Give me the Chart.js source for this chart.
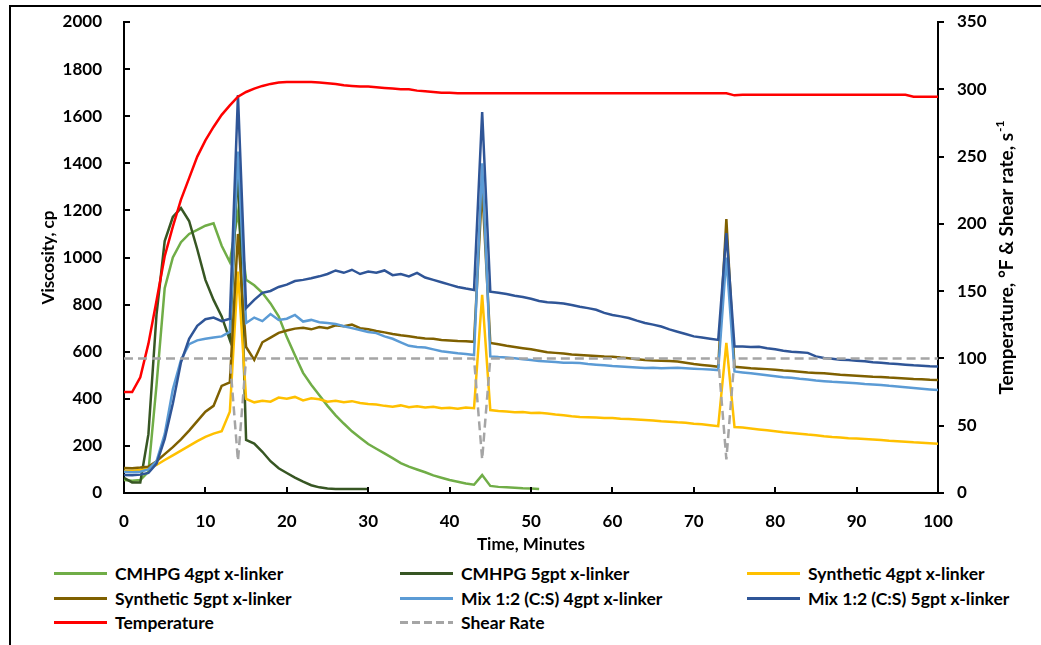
<!DOCTYPE html>
<html>
<head>
<meta charset="utf-8">
<title>Viscosity vs time</title>
<script src="https://cdn.jsdelivr.net/npm/chart.js@4"></script>
<style>
  body { margin: 0; background: #fff; width: 1041px; height: 645px; overflow: hidden; position: relative; font-family: Lato, "Open Sans", sans-serif; }
  #frame { position: absolute; left: 9px; top: 5px; width: 1100px; height: 700px; border-left: 2px solid #000; border-top: 2px solid #000; }
  #wrap { position: absolute; left: 0; top: 0; width: 1041px; height: 560px; }
  #legend .item { position: absolute; display: flex; align-items: center; height: 20px; font: bold 17.5px Lato, sans-serif; color: #000; white-space: nowrap; }
  #legend .swatch { display: inline-block; width: 53px; height: 3px; margin-right: 8px; }
</style>
</head>
<body>
<div id="frame"></div>
<div id="wrap"><canvas id="chart" width="1041" height="560"></canvas></div>
<div id="legend"></div>
<script>
// time grid, minutes
const minutes = [
  0, 1, 2, 3, 4, 5, 6, 7, 8, 9,
  10, 11, 12, 13, 14, 15, 16, 17, 18, 19,
  20, 21, 22, 23, 24, 25, 26, 27, 28, 29,
  30, 31, 32, 33, 34, 35, 36, 37, 38, 39,
  40, 41, 42, 43, 44, 45, 46, 47, 48, 49,
  50, 51, 52, 53, 54, 55, 56, 57, 58, 59,
  60, 61, 62, 63, 64, 65, 66, 67, 68, 69,
  70, 71, 72, 73, 74, 75, 76, 77, 78, 79,
  80, 81, 82, 83, 84, 85, 86, 87, 88, 89,
  90, 91, 92, 93, 94, 95, 96, 97, 98, 99,
  100
];

// viscosity, cp
const cmhpg4 = [
  55, 52, 55, 90, 460, 870, 1000, 1065, 1100, 1117,
  1135, 1145, 1050, 981, 1190, 905, 882, 850, 805, 750,
  662, 585, 510, 460, 415, 370, 330, 295, 262, 235,
  208, 188, 168, 148, 127, 112, 100, 88, 75, 65,
  55, 48, 40, 35, 76, 30, 26, 24, 22, 20,
  19, 17
];
const cmhpg5 = [
  64, 45, 45, 250, 760, 1070, 1172, 1210, 1155, 1035,
  905, 820, 750, 650, 1400, 225, 210, 175, 135, 105,
  85, 65, 48, 33, 24, 19, 17, 17, 17, 17,
  17
];
const synth4 = [
  95, 95, 98, 105, 119, 140, 160, 180, 200, 220,
  238, 252, 262, 345, 940, 400, 385, 392, 388, 405,
  400, 408, 393, 402, 398, 388, 392, 385, 390, 382,
  378, 376, 370, 366, 372, 364, 368, 363, 366, 360,
  362, 358, 363, 360, 841, 352, 348, 346, 343, 344,
  340, 341, 338, 333, 330, 326, 323, 322, 321, 318,
  318, 315, 314, 312, 310, 308, 305, 303, 300, 298,
  294, 292, 288, 284, 637, 280, 278, 274, 270, 266,
  262, 258, 255, 252, 248, 245, 241, 238, 236, 233,
  231, 229, 227, 225, 222, 220, 218, 215, 213, 211,
  209
];
const synth5 = [
  106, 105, 108, 112, 135, 165, 195, 228, 265, 305,
  345, 370, 455, 470, 1100, 620, 565, 640, 660, 680,
  690, 698, 702, 695, 705, 700, 712, 708, 715, 700,
  695, 688, 682, 675, 670, 666, 660, 656, 655, 650,
  648, 645, 644, 642, 1300, 637, 632, 625, 620, 615,
  610, 604, 598, 595, 592, 588, 586, 584, 582, 580,
  579, 575, 572, 568, 565, 563, 562, 560, 558, 553,
  548, 544, 540, 536, 1163, 536, 533, 530, 528, 526,
  523, 520, 518, 515, 512, 510, 508, 505, 502, 500,
  498, 496, 494, 493, 490, 488, 486, 484, 483, 481,
  480
];
const mix4 = [
  90, 88, 90, 100, 135, 250, 440, 565, 632, 648,
  655, 660, 665, 684, 1450, 722, 745, 730, 760, 735,
  740, 756, 728, 735, 725, 722, 718, 708, 700, 692,
  684, 679, 665, 655, 640, 625, 620, 618, 610, 602,
  598, 593, 590, 586, 1400, 580, 577, 575, 572, 568,
  565, 560, 558, 556, 553, 553, 552, 548, 545, 542,
  539, 537, 535, 533, 531, 532, 530, 531, 532, 530,
  528, 526, 524, 522, 1000, 516, 512, 508, 504, 500,
  496, 492, 489, 485, 482, 478, 475, 472, 470, 468,
  466, 463, 461, 459, 455, 452, 449, 446, 443, 440,
  437
];
const mix5 = [
  76, 75, 78, 85, 125, 230, 380, 555, 655, 710,
  738, 745, 730, 740, 1690, 785, 820, 850, 858, 875,
  885, 900, 905, 912, 920, 930, 945, 935, 948, 930,
  940, 935, 945, 925, 930, 920, 935, 915, 905, 895,
  885, 875, 868, 862, 1618, 855, 850, 845, 838, 832,
  825, 815, 810, 808, 805, 798, 791, 785, 778, 765,
  756, 750, 743, 732, 722, 715, 707, 695, 685, 675,
  665, 660, 655, 650, 1104, 622, 622, 620, 621, 615,
  610, 604, 600, 598, 595, 580, 573, 570, 566, 565,
  562, 559, 555, 553, 550, 548, 545, 542, 540, 538,
  537
];

// secondary axis: temperature (°F) and shear rate (1/s)
const temperature = [
  75, 75, 86, 111, 143, 176, 198, 218, 234, 250,
  262, 272, 281, 288, 294.5, 298, 300.5, 302.5, 304, 305,
  305.5, 305.5, 305.5, 305.5, 305, 304.5, 304, 303, 302.5, 302,
  302, 301.5, 301, 300.5, 300, 300, 299, 298.5, 298, 297.5,
  297.5, 297, 297, 297, 297, 297, 297, 297, 297, 297,
  297, 297, 297, 297, 297, 297, 297, 297, 297, 297,
  297, 297, 297, 297, 297, 297, 297, 297, 297, 297,
  297, 297, 297, 297, 297, 295.5, 296, 296, 296, 296,
  296, 296, 296, 296, 296, 296, 296, 296, 296, 296,
  296, 296, 296, 296, 296, 296, 296, 294.5, 294.5, 294.5,
  294.5
];
const shearRate = [
  100, 100, 100, 100, 100, 100, 100, 100, 100, 100,
  100, 100, 100, 100, 24, 100, 100, 100, 100, 100,
  100, 100, 100, 100, 100, 100, 100, 100, 100, 100,
  100, 100, 100, 100, 100, 100, 100, 100, 100, 100,
  100, 100, 100, 100, 25, 100, 100, 100, 100, 100,
  100, 100, 100, 100, 100, 100, 100, 100, 100, 100,
  100, 100, 100, 100, 100, 100, 100, 100, 100, 100,
  100, 100, 100, 100, 25, 100, 100, 100, 100, 100,
  100, 100, 100, 100, 100, 100, 100, 100, 100, 100,
  100, 100, 100, 100, 100, 100, 100, 100, 100, 100,
  100
];

const xTicks = { min: 0, max: 100, step: 10 };
const viscTicks = { min: 0, max: 2000, step: 200 };
const tempTicks = { min: 0, max: 350, step: 50 };

const seriesList = [
  { label: 'CMHPG 4gpt x-linker', values: cmhpg4, color: '#70AD47', axis: 'y' },
  { label: 'CMHPG 5gpt x-linker', values: cmhpg5, color: '#375623', axis: 'y' },
  { label: 'Synthetic 4gpt x-linker', values: synth4, color: '#FFC000', axis: 'y' },
  { label: 'Synthetic 5gpt x-linker', values: synth5, color: '#7F6000', axis: 'y' },
  { label: 'Mix 1:2 (C:S) 4gpt x-linker', values: mix4, color: '#5B9BD5', axis: 'y' },
  { label: 'Mix 1:2 (C:S) 5gpt x-linker', values: mix5, color: '#2F5597', axis: 'y' },
  { label: 'Temperature', values: temperature, color: '#FF0000', axis: 'y2' },
  { label: 'Shear Rate', values: shearRate, color: '#A5A5A5', axis: 'y2', dash: [9, 5] },
];

Chart.defaults.font.family = 'Lato, "Open Sans", sans-serif';
const boldFont = { size: 17, weight: 'bold' };
const plainNumber = v => String(v);

// small inside / outside tick marks like the original
const tickMarks = {
  id: 'tickMarks',
  afterDraw(chart) {
    const { ctx, chartArea, scales } = chart;
    ctx.save();
    ctx.strokeStyle = '#000';
    ctx.lineWidth = 2;
    ctx.beginPath();
    scales.y.ticks.forEach(t => {
      const py = Math.round(scales.y.getPixelForValue(t.value));
      ctx.moveTo(chartArea.left, py);
      ctx.lineTo(chartArea.left + 6, py);
    });
    scales.x.ticks.forEach(t => {
      const px = Math.round(scales.x.getPixelForValue(t.value));
      ctx.moveTo(px, chartArea.bottom);
      ctx.lineTo(px, chartArea.bottom - 6);
    });
    scales.y2.ticks.forEach(t => {
      const py = Math.round(scales.y2.getPixelForValue(t.value));
      ctx.moveTo(chartArea.right, py);
      ctx.lineTo(chartArea.right + 6, py);
    });
    ctx.stroke();

    // right axis title reads bottom-to-top, with a superscript
    ctx.translate(1007, 258);
    ctx.rotate(-Math.PI / 2);
    ctx.fillStyle = '#000';
    ctx.textBaseline = 'middle';
    const mainFont = 'bold 19px Lato, "Open Sans", sans-serif';
    const supFont = 'bold 12px Lato, "Open Sans", sans-serif';
    const main = 'Temperature, °F & Shear rate, s';
    const sup = '-1';
    ctx.font = mainFont;
    const w1 = ctx.measureText(main).width;
    ctx.font = supFont;
    const w2 = ctx.measureText(sup).width;
    const start = -(w1 + w2) / 2;
    ctx.font = mainFont;
    ctx.fillText(main, start, 0);
    ctx.font = supFont;
    ctx.fillText(sup, start + w1 + 1, -7);
    ctx.restore();
  }
};

const chart = new Chart(document.getElementById('chart'), {
  type: 'line',
  data: {
    datasets: seriesList.map((s, i) => ({
      label: s.label,
      data: minutes.slice(0, s.values.length).map((t, k) => ({ x: t, y: s.values[k] })),
      borderColor: s.color,
      backgroundColor: s.color,
      borderWidth: 2.5,
      borderDash: s.dash || [],
      yAxisID: s.axis,
      order: seriesList.length - i,
      pointRadius: 0,
      tension: 0,
      fill: false,
    })),
  },
  options: {
    responsive: false,
    animation: false,
    devicePixelRatio: 1,
    layout: { padding: { top: 22, left: 0, right: 0, bottom: 0 } },
    plugins: { legend: { display: false }, tooltip: { enabled: false } },
    scales: {
      x: {
        type: 'linear',
        min: xTicks.min, max: xTicks.max,
        grid: { display: false, drawTicks: false },
        border: { display: true, color: '#000', width: 2 },
        ticks: { stepSize: xTicks.step, padding: 18, color: '#000', font: boldFont, maxRotation: 0, callback: plainNumber },
        title: { display: true, text: 'Time, Minutes', color: '#000', font: boldFont, padding: { top: 0, bottom: 5 } },
        afterFit: s => { s.height = 67; },
      },
      y: {
        position: 'left',
        min: viscTicks.min, max: viscTicks.max,
        grid: { display: false, drawTicks: false },
        border: { display: true, color: '#000', width: 2 },
        ticks: { stepSize: viscTicks.step, padding: 22, color: '#000', font: boldFont, callback: plainNumber },
        title: { display: true, text: 'Viscosity, cp', color: '#000', font: boldFont, padding: { top: 38, bottom: 0 } },
        afterFit: s => { s.width = 124; s.paddingTop = 0; s.paddingBottom = 0; },
      },
      y2: {
        position: 'right',
        min: tempTicks.min, max: tempTicks.max,
        grid: { display: false, drawTicks: false },
        border: { display: true, color: '#000', width: 2 },
        ticks: { stepSize: tempTicks.step, padding: 19, color: '#000', font: boldFont, callback: plainNumber },
        afterFit: s => { s.width = 103; s.paddingTop = 0; s.paddingBottom = 0; },
      },
    },
  },
  plugins: [tickMarks],
});

// legend laid out in three columns like the original
const legendCols = [54, 400, 747];
const legendRows = [563, 588, 612];
const legendBox = document.getElementById('legend');
chart.data.datasets.forEach((ds, i) => {
  const item = document.createElement('div');
  item.className = 'item';
  item.style.left = legendCols[i % 3] + 'px';
  item.style.top = legendRows[Math.floor(i / 3)] + 'px';
  const swatch = document.createElement('span');
  swatch.className = 'swatch';
  swatch.style.background = ds.borderDash.length
    ? `repeating-linear-gradient(to right, ${ds.borderColor} 0 8px, transparent 8px 12px)`
    : ds.borderColor;
  item.appendChild(swatch);
  item.appendChild(document.createTextNode(ds.label));
  legendBox.appendChild(item);
});
</script>
</body>
</html>
